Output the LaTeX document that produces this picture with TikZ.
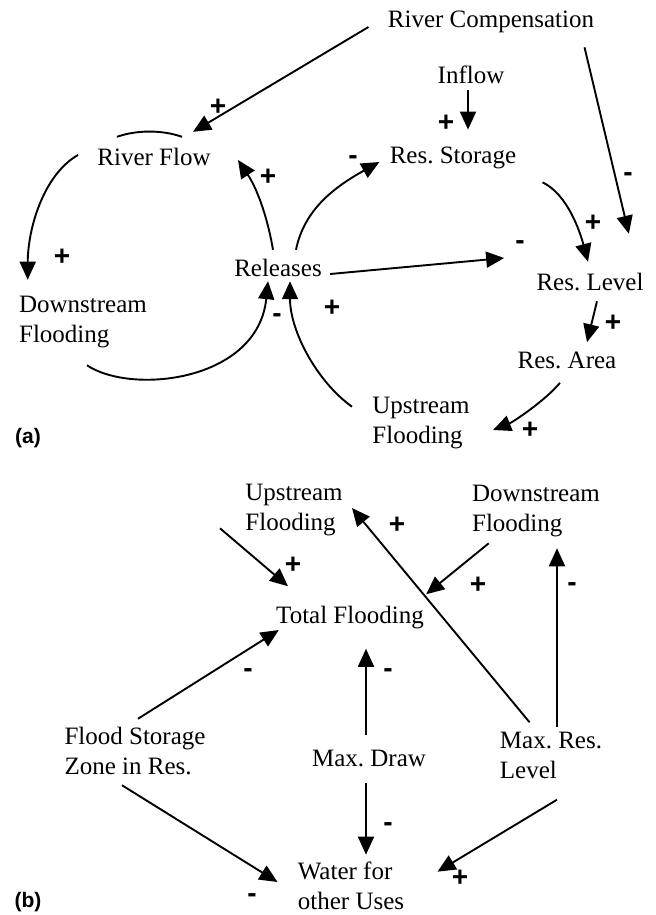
\documentclass[tikz,border=0pt]{standalone}
\usepackage{fontspec}
\setmainfont{Liberation Serif}
\setsansfont{Liberation Sans}
\usetikzlibrary{arrows.meta}
\frenchspacing

\begin{document}
\begin{tikzpicture}[x=0.5pt,y=-0.5pt,
    vname/.style={inner sep=0pt,align=left,font=\fontsize{12.5}{15}\selectfont},
    ln/.style={line width=0.95pt},
    arr/.style={ln,-{Triangle[length=9pt,width=8pt]}},
    sgn/.style={inner sep=0pt,font=\fontsize{14}{14}\sffamily\bfseries},
    plab/.style={inner sep=0pt,font=\fontsize{10.5}{12}\sffamily\bfseries}]
\useasboundingbox (0,0) rectangle (656,915);

\node[vname] (rcomp) at (491,22) {River Compensation};
\node[vname] (inflow) at (471,75) {Inflow};
\node[vname] (rstor) at (453,158) {Res. Storage};
\node[vname] (rflow) at (154,157) {River Flow};
\node[vname] (rel) at (278,268) {Releases};
\node[vname] (dsf) at (83,322) {Downstream\\Flooding};
\node[vname] (rlev) at (590,282) {Res. Level};
\node[vname] (rarea) at (567,360) {Res. Area};
\node[vname] (usf) at (421,423) {Upstream\\Flooding};
\node[plab] (la) at (28,438) {(a)};

\draw[arr] ([shift={(-19,5)}]rcomp.west) -- ([shift={(-18,-16)}]rflow.north east);
\draw[arr] ([shift={(-3,6)}]inflow.south) -- ([shift={(15,-17)}]rstor.north);
\draw[arr] ([shift={(-10,14)}]rcomp.south east) -- ([shift={(-15,-39)}]rlev.north east);
\draw[arr] ([shift={(26,13)}]rstor.south east) .. controls +(25,12) and +(-8,-30) .. ([shift={(-2,-11)}]rlev.north);
\draw[arr] ([shift={(8,6)}]rel.east) -- ([shift={(-32,-24)}]rlev.west);
\draw[arr] ([shift={(18,-9)}]rel.north) .. controls +(8,-40) and +(-45,25) .. ([shift={(-10,4)}]rstor.west);
\draw[arr] ([shift={(-5,-9)}]rel.north) .. controls +(-5,-30) and +(20,30) .. ([shift={(27,3)}]rflow.east);
\draw[ln] ([shift={(-37,-11)}]rflow.north) .. controls +(20,-7) and +(-20,-7) .. ([shift={(28,-11)}]rflow.north);
\draw[arr] ([shift={(-19,-2)}]rflow.west) .. controls +(-35,20) and +(0,-50) .. ([shift={(9,-16)}]dsf.north west);
\draw[arr] ([shift={(4,17)}]dsf.south) .. controls +(45,30) and +(-10,100) .. ([shift={(-10,4)}]rel.south);
\draw[arr] ([shift={(-20,10)}]usf.north west) .. controls +(-35,-25) and +(0,50) .. ([shift={(12,4)}]rel.south);
\draw[arr] ([shift={(7,10)}]rlev.south) -- ([shift={(20,-9)}]rarea.north);
\draw[arr] ([shift={(-7,14)}]rarea.south) .. controls +(-15,18) and +(20,-8) .. ([shift={(23,7)}]usf.east);

\node[vname] (usfb) at (294,510) {Upstream\\Flooding};
\node[vname] (dsfb) at (536,511) {Downstream\\Flooding};
\node[vname] (tot) at (350,618) {Total Flooding};
\node[vname] (fsz) at (135,751) {Flood Storage\\Zone in Res.};
\node[vname] (mdraw) at (369,758) {Max. Draw};
\node[vname] (mrl) at (551,755) {Max. Res.\\Level};
\node[vname] (water) at (351,886) {Water for\\other Uses};
\node[plab] (lb) at (28,902) {(b)};

\draw[arr] ([shift={(-25,-8)}]usfb.south west) -- ([shift={(-62,-20)}]tot.north);
\draw[arr] ([shift={(17,6)}]dsfb.south west) -- ([shift={(2,-12)}]tot.north east);
\draw[arr] ([shift={(30,-9)}]mrl.north west) -- ([shift={(9,-2)}]usfb.east);
\draw[arr] ([shift={(6,-4)}]mrl.north) -- ([shift={(21,11)}]dsfb.south);
\draw[arr] ([shift={(-3,-14)}]mdraw.north) -- ([shift={(16,19)}]tot.south);
\draw[arr] ([shift={(3,-8)}]fsz.north) -- ([shift={(3,12)}]tot.west);
\draw[arr] ([shift={(-3,16)}]mdraw.south) -- ([shift={(15,-7)}]water.north);
\draw[arr] ([shift={(-13,10)}]fsz.south) -- ([shift={(-20,-4)}]water.west);
\draw[arr] ([shift={(6,21)}]mrl.south) -- ([shift={(33,10)}]water.north east);

\foreach \x/\y/\sg [count=\i] in {218/107/+, 446/123/+, 628/177/-, 593/223/+, 520/245/-,
    353/160/-, 268/177/+, 62/257/+, 277/318/-, 332/308/+, 613/323/+, 530/430/+,
    293/565/+, 478/585/+, 397/525/+, 572/587/-, 388/673/-, 248/673/-, 388/827/-,
    252/898/-, 460/878/+}
  \node[sgn] (s\i) at (\x,\y) {\sg};
\end{tikzpicture}
\end{document}
